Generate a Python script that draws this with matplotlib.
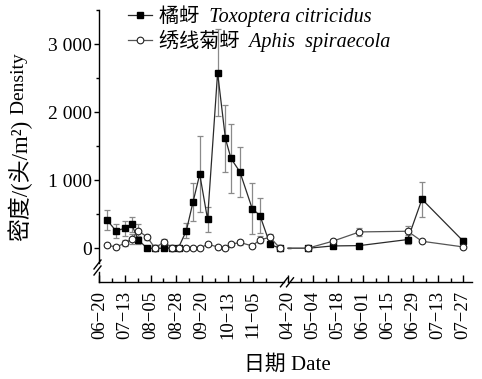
import matplotlib
matplotlib.use("Agg")
import matplotlib.pyplot as plt
from matplotlib.lines import Line2D
from matplotlib.font_manager import FontProperties
import pandas as pd

# ---------------- data ----------------
dates1 = ["2014-06-27", "2014-07-05", "2014-07-13", "2014-07-19", "2014-07-25", "2014-08-02",
          "2014-08-09", "2014-08-17", "2014-08-24", "2014-08-30", "2014-09-06", "2014-09-12",
          "2014-09-18", "2014-09-25", "2014-10-04", "2014-10-11", "2014-10-16", "2014-10-24",
          "2014-11-04", "2014-11-11", "2014-11-20", "2014-11-29"]
toxo1 = [412, 255, 295, 350, 120, 0, 0, 0, 5, 10, 258, 681,
         1088, 426, 2579, 1613, 1319, 1122, 583, 480, 56, 0]
toxo1_err = [150, 100, 110, 110, 55, 0, 0, 0, 0, 0, 110, 280,
             560, 180, 640, 490, 510, 370, 380, 260, 30, 0]
aphis1 = [44, 20, 73, 136, 258, 161, 0, 98, 5, 5, 5, 5,
          0, 59, 20, 0, 59, 85, 35, 125, 160, 0]
aphis1_err = [10, 8, 45, 80, 100, 40, 0, 40, 5, 5, 5, 5,
              0, 25, 10, 0, 25, 40, 10, 55, 50, 0]

dates2 = ["2015-04-20", "2015-05-01", "2015-05-15", "2015-05-30", "2015-06-26", "2015-07-04", "2015-07-27"]
toxo2 = [0, 0, 34, 39, 128, 720, 108]
toxo2_err = [0, 0, 0, 40, 60, 260, 45]
aphis2 = [0, 0, 103, 240, 250, 103, 20]
aphis2_err = [0, 0, 40, 60, 80, 0, 15]

ticks1 = ["2014-06-20", "2014-07-13", "2014-08-05", "2014-08-28", "2014-09-20", "2014-10-13", "2014-11-05"]
ticks2 = ["2015-04-20", "2015-05-04", "2015-05-18", "2015-06-01", "2015-06-15", "2015-06-29",
          "2015-07-13", "2015-07-27"]
yticks = [0, 1000, 2000, 3000]
yticklabels = ["0", "1 000", "2 000", "3 000"]

label_toxo = "橘蚜  Toxoptera citricidus"
label_aphis = "绣线菊蚜  Aphis  spiraecola"
xlabel = "日期 Date"
ylabel_cn = "密度/(头/m²)"
ylabel_en = "Density"

# ---------------- style ----------------
FAM = ["Liberation Serif", "Noto Sans CJK SC"]
plt.rcParams["font.family"] = FAM
plt.rcParams["axes.linewidth"] = 1.0

W, H = 482, 379
fig = plt.figure(figsize=(W / 100, H / 100), dpi=100)

def fx(px):
    return px / W

def fy(py):
    return 1 - py / H

y_bottom_px, y_top_px = 282.3, 10.0
ax1_l, ax1_r = 99.3, 284.0
ax2_l, ax2_r = 288.0, 472.0
ax1 = fig.add_axes([fx(ax1_l), fy(y_bottom_px), fx(ax1_r) - fx(ax1_l), fy(y_top_px) - fy(y_bottom_px)])
ax2 = fig.add_axes([fx(ax2_l), fy(y_bottom_px), fx(ax2_r) - fx(ax2_l), fy(y_top_px) - fy(y_bottom_px)])
ax2.patch.set_alpha(0)

d1 = pd.to_datetime(dates1)
d2 = pd.to_datetime(dates2)
t1 = pd.to_datetime(ticks1)
t2 = pd.to_datetime(ticks2)

start1 = pd.Timestamp("2014-06-20")
ax1.set_xlim(start1, start1 + pd.Timedelta(days=(ax1_r - ax1_l) / 1.116))
start2 = pd.Timestamp("2015-04-20")
ax2.set_xlim(start2, start2 + pd.Timedelta(days=(ax2_r - ax2_l) / 1.786))
for ax in (ax1, ax2):
    ax.set_ylim(-500, 3500)

ecol = "#8a8a8a"
sq_kw = dict(color="#2a2a2a", lw=0.9, marker="s", ms=4.8, mfc="black", mec="black", zorder=3)
ci_kw = dict(color="#555555", lw=0.9, marker="o", ms=4.8, mfc="white", mec="#222222", mew=0.8, zorder=4)
eb_kw = dict(fmt="none", ecolor=ecol, elinewidth=0.9, capsize=2.3, capthick=0.9, zorder=2)

ax1.errorbar(d1, toxo1, yerr=toxo1_err, **eb_kw)
ax1.errorbar(d1, aphis1, yerr=aphis1_err, **eb_kw)
l1, = ax1.plot(d1, toxo1, clip_on=False, **sq_kw)
l2, = ax1.plot(d1, aphis1, clip_on=False, **ci_kw)

ax2.errorbar(d2, toxo2, yerr=toxo2_err, **eb_kw)
ax2.errorbar(d2, aphis2, yerr=aphis2_err, **eb_kw)
ax2.plot(d2, toxo2, clip_on=False, markevery=list(range(1, len(d2))), **sq_kw)
ax2.plot(d2, aphis2, clip_on=False, markevery=list(range(1, len(d2))), **ci_kw)

# ticks
fmt = lambda ts: [t.strftime("%m") + "\u2212" + t.strftime("%d") for t in ts]
ax1.set_xticks(t1)
ax1.set_xticklabels(fmt(t1))
minor1 = [t + pd.Timedelta(hours=276) for t in t1]
ax1.set_xticks(minor1, minor=True)
ax2.set_xticks(t2)
ax2.set_xticklabels(fmt(t2))
minor2 = [t + pd.Timedelta(days=7) for t in t2[:-1]]
ax2.set_xticks(minor2, minor=True)

for ax in (ax1, ax2):
    ax.tick_params(axis="x", which="major", direction="in", length=5, width=1.0,
                   labelsize=13.5, labelrotation=90, pad=6)
    ax.tick_params(axis="x", which="minor", direction="in", length=3, width=1.0)
    ax.spines["top"].set_visible(False)
    ax.spines["right"].set_visible(False)

ax1.set_yticks(yticks)
ax1.set_yticklabels(yticklabels)
ax1.set_yticks([500, 1500, 2500, 3500], minor=True)
ax1.tick_params(axis="y", which="major", direction="out", length=3.5, width=1.0, labelsize=14, pad=2)
ax1.tick_params(axis="y", which="minor", direction="out", length=2, width=1.0)
ax2.spines["left"].set_visible(False)
ax2.tick_params(axis="y", which="both", left=False, labelleft=False)

# y axis break: gap in the left spine
ax1.spines["left"].set_bounds(-215, 3500)
ax1.plot([0, 0], [-500, -350], transform=ax1.get_yaxis_transform(), color="black", lw=1.0, clip_on=False)

def slash(cx, cy, w=3.5, h=4.5):
    fig.add_artist(Line2D([fx(cx - w), fx(cx + w)], [fy(cy + h), fy(cy - h)],
                          transform=fig.transFigure, color="black", lw=1.0))

slash(97.5, 264.5)
slash(97.5, 270.5)
slash(284.0, 282.3)
slash(290.0, 282.3)

# labels
fig.text(fx(287), fy(365), xlabel, ha="center", va="center", fontsize=15, family=FAM)
ty = fig.text(fx(20), fy(180), ylabel_cn, rotation=90, ha="center", va="center", fontsize=16.5, family=FAM)
ax1.annotate(" " + ylabel_en, xy=(0.5, 1.0), xycoords=ty, ha="center", va="bottom",
             rotation=90, fontsize=14, family=FAM)

fig.legend([l1, l2], [label_toxo, label_aphis], loc="upper left",
           bbox_to_anchor=(fx(128), fy(5)), bbox_transform=fig.transFigure,
           frameon=False, borderpad=0, borderaxespad=0, handlelength=1.2,
           handletextpad=0.35, labelspacing=0.15,
           prop=FontProperties(family=FAM, style="italic", size=14.5))

fig.savefig("out.png", dpi=100)
